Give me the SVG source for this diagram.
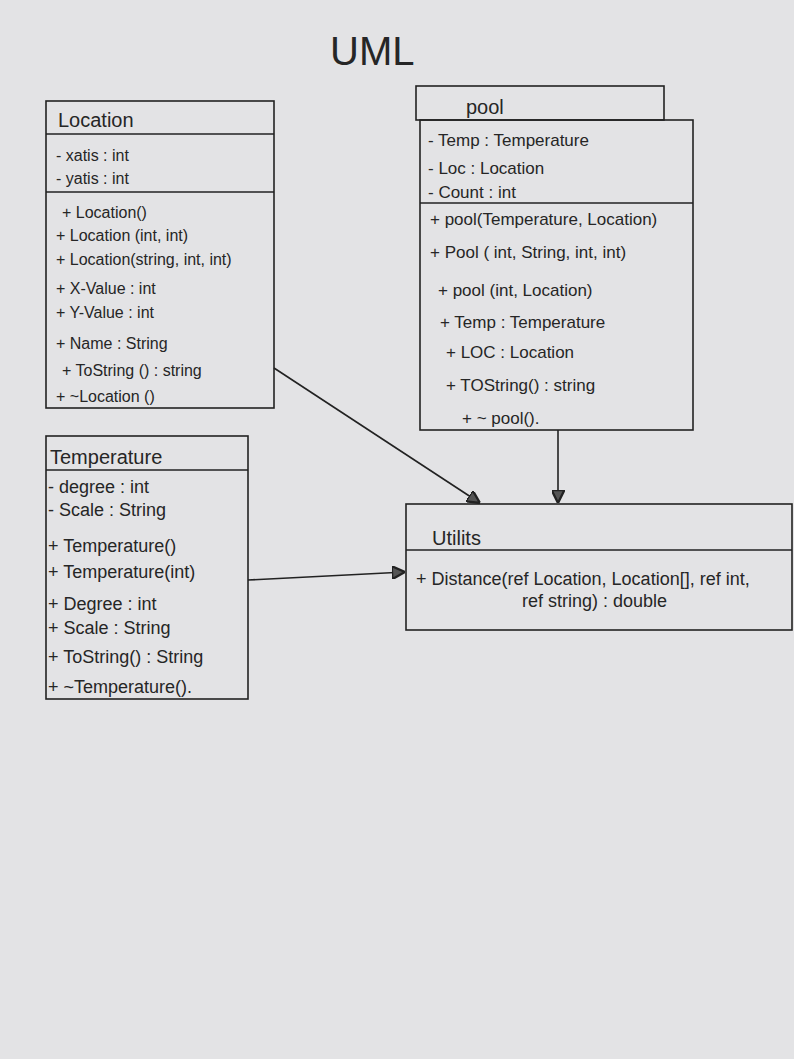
<svg xmlns="http://www.w3.org/2000/svg" width="794" height="1059" viewBox="0 0 794 1059">
  <defs>
    <style>
      .box { fill: none; stroke: #222; stroke-width: 1.6; }
      .div { stroke: #222; stroke-width: 1.6; }
      .t { font-family: "Liberation Sans", Arial, sans-serif; fill: #262626; font-size: 16px; }
      .tp { font-family: "Liberation Sans", Arial, sans-serif; fill: #262626; font-size: 17px; }
      .tt { font-family: "Liberation Sans", Arial, sans-serif; fill: #262626; font-size: 18px; }
      .h { font-family: "Liberation Sans", Arial, sans-serif; fill: #262626; font-size: 20px; }
      .conn { stroke: #222; stroke-width: 1.6; fill: none; }
    </style>
    <marker id="tri" viewBox="0 0 10 10" refX="10" refY="5" markerWidth="13" markerHeight="13" markerUnits="userSpaceOnUse" orient="auto">
      <path d="M0,0 L10,5 L0,10 z" fill="#555" stroke="#222" stroke-width="1.8"/>
    </marker>
  </defs>
  <rect width="794" height="1059" fill="#e3e3e5"/>

  <text x="330" y="65" style="font-family:'Liberation Sans', Arial, sans-serif; font-size:40px; fill:#262626;">UML</text>

  <g id="location">
    <rect class="box" x="46" y="101" width="228" height="307"/>
    <line class="div" x1="46" y1="134" x2="274" y2="134"/>
    <line class="div" x1="46" y1="192" x2="274" y2="192"/>
    <text class="h" x="58" y="127">Location</text>
    <text class="t" x="56" y="161">- xatis : int</text>
    <text class="t" x="56" y="184">- yatis : int</text>
    <text class="t" x="62" y="218">+ Location()</text>
    <text class="t" x="56" y="241">+ Location (int, int)</text>
    <text class="t" x="56" y="265">+ Location(string, int, int)</text>
    <text class="t" x="56" y="294">+ X-Value : int</text>
    <text class="t" x="56" y="318">+ Y-Value : int</text>
    <text class="t" x="56" y="349">+ Name : String</text>
    <text class="t" x="62" y="376">+ ToString () : string</text>
    <text class="t" x="56" y="402">+ ~Location ()</text>
  </g>

  <g id="pool">
    <rect class="box" x="416" y="86" width="248" height="34"/>
    <rect class="box" x="420" y="120" width="273" height="310"/>
    <line class="div" x1="420" y1="203" x2="693" y2="203"/>
    <text class="h" x="466" y="114">pool</text>
    <text class="tp" x="428" y="146">- Temp : Temperature</text>
    <text class="tp" x="428" y="174">- Loc : Location</text>
    <text class="tp" x="428" y="198">- Count : int</text>
    <text class="tp" x="430" y="225">+ pool(Temperature, Location)</text>
    <text class="tp" x="430" y="258">+ Pool ( int, String, int, int)</text>
    <text class="tp" x="438" y="296">+ pool (int, Location)</text>
    <text class="tp" x="440" y="328">+ Temp : Temperature</text>
    <text class="tp" x="446" y="358">+ LOC : Location</text>
    <text class="tp" x="446" y="391">+ TOString() : string</text>
    <text class="tp" x="462" y="424">+ ~ pool().</text>
  </g>

  <g id="temperature">
    <rect class="box" x="46" y="436" width="202" height="263"/>
    <line class="div" x1="46" y1="470" x2="248" y2="470"/>
    <text class="h" x="50" y="464">Temperature</text>
    <text class="tt" x="48" y="493">- degree : int</text>
    <text class="tt" x="48" y="516">- Scale : String</text>
    <text class="tt" x="48" y="552">+ Temperature()</text>
    <text class="tt" x="48" y="578">+ Temperature(int)</text>
    <text class="tt" x="48" y="610">+ Degree : int</text>
    <text class="tt" x="48" y="634">+ Scale : String</text>
    <text class="tt" x="48" y="663">+ ToString() : String</text>
    <text class="tt" x="48" y="693">+ ~Temperature().</text>
  </g>

  <g id="utilities">
    <rect class="box" x="406" y="504" width="386" height="126"/>
    <line class="div" x1="406" y1="550" x2="792" y2="550"/>
    <text class="h" x="432" y="545">Utilits</text>
    <text class="tt" x="416" y="585">+ Distance(ref Location, Location[], ref int,</text>
    <text class="tt" x="522" y="607">ref string) : double</text>
  </g>

  <g id="connectors">
    <line class="conn" x1="274" y1="368" x2="480" y2="503" marker-end="url(#tri)"/>
    <line class="conn" x1="558" y1="430" x2="558" y2="503" marker-end="url(#tri)"/>
    <line class="conn" x1="248" y1="580" x2="405" y2="572" marker-end="url(#tri)"/>
  </g>
</svg>
